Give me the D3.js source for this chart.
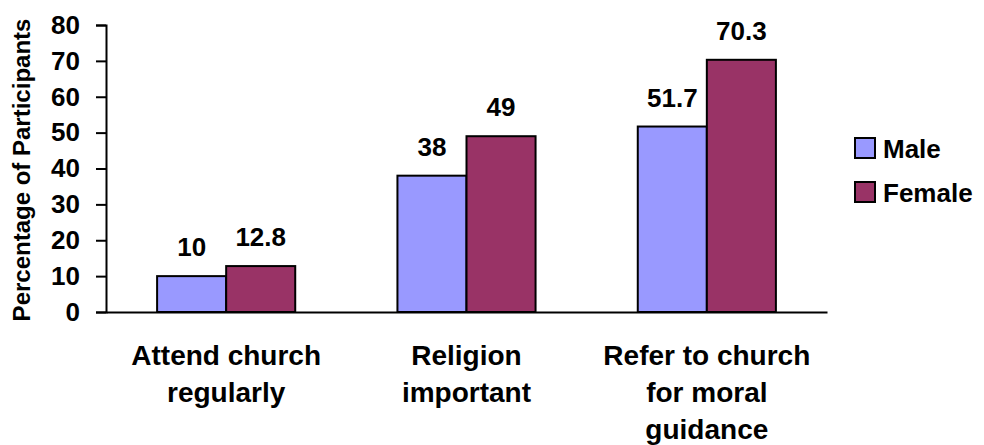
<!DOCTYPE html>
<html>
<head>
<meta charset="utf-8">
<script src="https://cdn.jsdelivr.net/npm/d3@7"></script>
<style>
  html, body { margin: 0; padding: 0; background: #fff; }
  svg { display: block; font-family: "Liberation Sans", Arial, sans-serif; font-weight: bold; }
</style>
</head>
<body>
<svg id="chart" width="984" height="445"></svg>
<script>
const categories = [
  ["Attend church", "regularly"],
  ["Religion", "important"],
  ["Refer to church", "for moral", "guidance"]
];
const seriesNames = ["Male", "Female"];
const maleValues = [10, 38, 51.7];
const femaleValues = [12.8, 49, 70.3];
const yTicks = [0, 10, 20, 30, 40, 50, 60, 70, 80];
const colors = ["#9999FF", "#993366"];

const seriesValues = [maleValues, femaleValues];
const svg = d3.select("#chart");

const plot = { left: 106, right: 827, top: 25, bottom: 312 };

const x0 = d3.scaleBand()
  .domain(d3.range(categories.length))
  .range([plot.left, plot.right])
  .padding(0);

const x1 = d3.scaleBand()
  .domain(seriesNames)
  .range([0, x0.bandwidth()])
  .paddingInner(0)
  .paddingOuter(0.74);

const y = d3.scaleLinear().domain([0, 80]).range([plot.bottom, plot.top]);

// Y axis
const yAxis = svg.append("g")
  .attr("transform", `translate(${plot.left},0)`)
  .call(d3.axisLeft(y).tickValues(yTicks).tickSize(10).tickPadding(16).tickFormat(d3.format("d")));
yAxis.select(".domain").attr("stroke", "#000").attr("stroke-width", 2);
yAxis.selectAll(".tick line").attr("stroke", "#000").attr("stroke-width", 2);
yAxis.selectAll(".tick text")
  .attr("fill", "#000")
  .style("font-size", "26px")
  .style("font-weight", "bold")
  .style("font-family", "'Liberation Sans', Arial, sans-serif");

// Bars
const groups = svg.append("g").selectAll("g")
  .data(categories.map((c, i) => i))
  .join("g")
  .attr("transform", i => `translate(${x0(i)},0)`);

groups.selectAll("rect")
  .data(i => seriesNames.map((s, k) => ({ s, k, v: seriesValues[k][i] })))
  .join("rect")
  .attr("x", d => x1(d.s))
  .attr("y", d => y(d.v))
  .attr("width", x1.bandwidth())
  .attr("height", d => y(0) - y(d.v))
  .attr("fill", d => colors[d.k])
  .attr("stroke", "#000")
  .attr("stroke-width", 2);

groups.selectAll("text.val")
  .data(i => seriesNames.map((s, k) => ({ s, k, v: seriesValues[k][i] })))
  .join("text")
  .attr("class", "val")
  .attr("x", d => x1(d.s) + x1.bandwidth() / 2)
  .attr("y", d => y(d.v) - 20)
  .attr("text-anchor", "middle")
  .attr("fill", "#000")
  .style("font-size", "26px")
  .text(d => String(d.v));

// X axis line
const xAxis = svg.append("g")
  .attr("transform", `translate(0,${plot.bottom})`)
  .call(d3.axisBottom(x0).tickSize(0).tickFormat(""));
xAxis.select(".domain").attr("stroke", "#000").attr("stroke-width", 2);

// Category labels
svg.append("g").selectAll("text")
  .data(categories.map((c, i) => ({ c, i })))
  .join("text")
  .attr("text-anchor", "middle")
  .attr("fill", "#000")
  .style("font-size", "28px")
  .attr("x", d => x0(d.i) + x0.bandwidth() / 2)
  .attr("y", 365)
  .each(function (d) {
    d3.select(this).selectAll("tspan")
      .data(d.c)
      .join("tspan")
      .attr("x", x0(d.i) + x0.bandwidth() / 2)
      .attr("dy", (t, j) => j === 0 ? 0 : 37)
      .text(t => t);
  });

// Y title
svg.append("text")
  .attr("transform", "translate(30,170) rotate(-90)")
  .attr("text-anchor", "middle")
  .attr("fill", "#000")
  .style("font-size", "24px")
  .text("Percentage of Participants");

// Legend
const legend = svg.append("g").attr("transform", "translate(855,138)");
const li = legend.selectAll("g")
  .data(seriesNames.map((s, k) => ({ s, k })))
  .join("g")
  .attr("transform", d => `translate(0,${d.k * 44})`);
li.append("rect")
  .attr("width", 20).attr("height", 20)
  .attr("fill", d => colors[d.k])
  .attr("stroke", "#000").attr("stroke-width", 2);
li.append("text")
  .attr("x", 28).attr("y", 20)
  .attr("fill", "#000")
  .style("font-size", "26px")
  .text(d => d.s);
</script>
</body>
</html>
